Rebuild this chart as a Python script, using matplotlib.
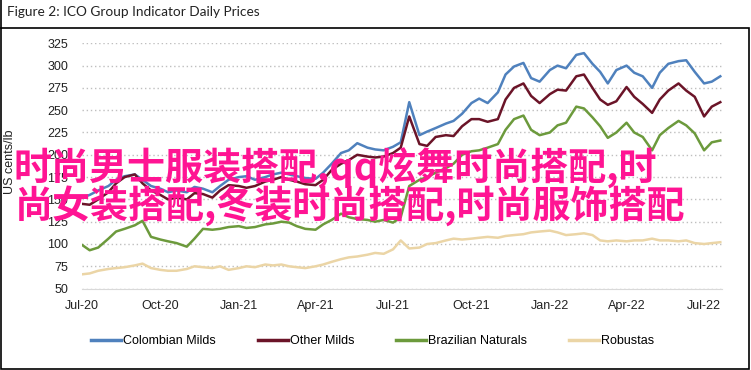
import matplotlib
matplotlib.use('Agg')
import matplotlib.pyplot as plt
import matplotlib.dates as mdates
import pandas as pd
from matplotlib.patches import Rectangle
from matplotlib.lines import Line2D

# roughly every ten days, Jul 2020 .. Jul 2022 (US cents/lb)
dates = pd.to_datetime([
    '2020-07-01', '2020-07-10', '2020-07-20', '2020-08-01', '2020-08-10', '2020-08-20',
    '2020-09-01', '2020-09-10', '2020-09-20', '2020-10-01', '2020-10-10', '2020-10-20',
    '2020-11-01', '2020-11-10', '2020-11-20', '2020-12-01', '2020-12-10', '2020-12-20',
    '2021-01-01', '2021-01-10', '2021-01-20', '2021-02-01', '2021-02-10', '2021-02-20',
    '2021-03-01', '2021-03-10', '2021-03-20', '2021-04-01', '2021-04-10', '2021-04-20',
    '2021-05-01', '2021-05-10', '2021-05-20', '2021-06-01', '2021-06-10', '2021-06-20',
    '2021-07-01', '2021-07-10', '2021-07-20', '2021-08-01', '2021-08-10', '2021-08-20',
    '2021-09-01', '2021-09-10', '2021-09-20', '2021-10-01', '2021-10-10', '2021-10-20',
    '2021-11-01', '2021-11-10', '2021-11-20', '2021-12-01', '2021-12-10', '2021-12-20',
    '2022-01-01', '2022-01-10', '2022-01-20', '2022-02-01', '2022-02-10', '2022-02-20',
    '2022-03-01', '2022-03-10', '2022-03-20', '2022-04-01', '2022-04-10', '2022-04-20',
    '2022-05-01', '2022-05-10', '2022-05-20', '2022-06-01', '2022-06-10', '2022-06-20',
    '2022-07-01', '2022-07-10', '2022-07-20',
])

colombian = [
    152, 155, 160, 165, 172, 176, 178, 172, 165, 162, 158, 160,
    158, 164, 162, 158, 165, 172, 175, 176, 172, 175, 178, 180,
    178, 176, 174, 173, 180, 190, 202, 205, 213, 208, 206, 205,
    209, 214, 259, 222, 226, 230, 235, 238, 246, 258, 263, 258,
    270, 290, 299, 303, 286, 282, 295, 300, 297, 312, 314, 302,
    293, 280, 295, 300, 292, 288, 275, 292, 302, 305, 306, 293,
    280, 282, 288,
]
other_milds = [
    145, 144, 150, 158, 168, 175, 178, 168, 160, 155, 150, 152,
    150, 157, 156, 152, 160, 166, 165, 163, 165, 170, 172, 175,
    172, 170, 167, 166, 172, 183, 190, 194, 200, 198, 197, 198,
    202, 208, 243, 212, 210, 220, 222, 221, 232, 240, 240, 237,
    240, 262, 275, 280, 266, 258, 268, 273, 272, 288, 290, 275,
    262, 256, 260, 276, 265, 257, 247, 262, 272, 280, 272, 265,
    243, 254, 259,
]
brazilian = [
    99, 93, 96, 106, 114, 117, 121, 126, 108, 105, 103, 101,
    97, 106, 117, 116, 117, 119, 120, 118, 119, 122, 123, 125,
    124, 120, 117, 116, 122, 127, 134, 130, 128, 127, 125, 127,
    124, 130, 165, 172, 175, 180, 185, 190, 200, 204, 205, 208,
    212, 228, 240, 244, 228, 222, 225, 233, 236, 254, 252, 242,
    232, 219, 225, 236, 225, 220, 205, 222, 230, 238, 233, 224,
    205, 214, 216,
]
robustas = [
    66, 67, 70, 72, 73, 74, 76, 78, 73, 71, 70, 70,
    72, 75, 74, 73, 75, 71, 73, 75, 74, 77, 76, 77,
    75, 74, 73, 75, 77, 80, 83, 85, 86, 88, 90, 89,
    94, 104, 95, 96, 100, 101, 104, 106, 105, 106, 107, 108,
    107, 109, 110, 111, 113, 114, 115, 113, 110, 111, 112, 110,
    104, 103, 104, 103, 104, 104, 106, 104, 104, 103, 104, 101,
    100, 101, 102,
]

names = ['Colombian Milds', 'Other Milds', 'Brazilian Naturals', 'Robustas']
colors = ['#4F81BD', '#6B1428', '#6C9A3C', '#EBD5A6']
yticks = [50, 75, 100, 125, 150, 175, 200, 225, 250, 275, 300, 325]

sans = ['Liberation Sans', 'DejaVu Sans']

fig = plt.figure(figsize=(7.51, 3.70), dpi=100)
ax = fig.add_axes([82 / 751, 1 - 288.6 / 370, 640 / 751, (288.6 - 43.3) / 370])

for series, name, color in zip([colombian, other_milds, brazilian, robustas], names, colors):
    ax.plot(dates, series, color=color, lw=1.8, label=name, solid_joinstyle='round')

ax.set_ylim(50, 325)
ax.set_xlim(pd.Timestamp('2020-07-01'), pd.Timestamp('2022-07-22'))
ax.set_yticks(yticks)
ax.xaxis.set_major_locator(mdates.MonthLocator(bymonth=[1, 4, 7, 10]))
ax.xaxis.set_major_formatter(mdates.DateFormatter('%b-%y'))
ax.yaxis.grid(True, linestyle=(0, (1, 2)), color='#BFBFBF', lw=1)
ax.tick_params(length=0, labelsize=9, colors='#222222')
ax.tick_params(axis='y', pad=10)
ax.tick_params(axis='x', pad=8)
for lab in ax.get_xticklabels() + ax.get_yticklabels():
    lab.set_family(sans)
for side in ['top', 'right', 'left']:
    ax.spines[side].set_visible(False)
ax.spines['bottom'].set_color('#D9D9D9')
ax.set_axisbelow(True)

fig.text(10 / 751, 1 - 162 / 370, 'US cents/lb', rotation=90, ha='center', va='center',
         fontsize=9, family=sans, color='#222222')

handles = [Line2D([], [], color=c, lw=2.5) for c in colors]
fig.legend(handles, names, loc='center', bbox_to_anchor=(372.5 / 751, 1 - 341 / 370), ncol=4,
           frameon=False, prop={'family': sans, 'size': 9}, handlelength=2.4,
           handletextpad=0.16, columnspacing=3.36)

fig.text(7 / 751, 1 - 12 / 370, 'Figure 2: ICO Group Indicator Daily Prices', ha='left', va='center',
         fontsize=9.8, family=['Lato', 'DejaVu Sans'], color='#222222')

# outer frame
fig.add_artist(Rectangle((1 / 751, 1 / 370), 748 / 751, 341 / 370, transform=fig.transFigure,
                         fill=False, ec='black', lw=1.2))
fig.add_artist(Line2D([1 / 751, 1 / 751], [342 / 370, 1], transform=fig.transFigure,
                      color='black', lw=1.2))

pink = '#FF1493'
cjk = ['Noto Sans CJK SC', 'DejaVu Sans']
fig.text(14 / 751, 1 - 181 / 370, '时尚男士服装搭配,qq炫舞时尚搭配,时', ha='left', va='baseline',
         fontsize=27.4, weight='bold', family=cjk, color=pink, zorder=10)
fig.text(14 / 751, 1 - 218 / 370, '尚女装搭配,冬装时尚搭配,时尚服饰搭配', ha='left', va='baseline',
         fontsize=27.4, weight='bold', family=cjk, color=pink, zorder=10)

fig.savefig('out.png', dpi=100)
